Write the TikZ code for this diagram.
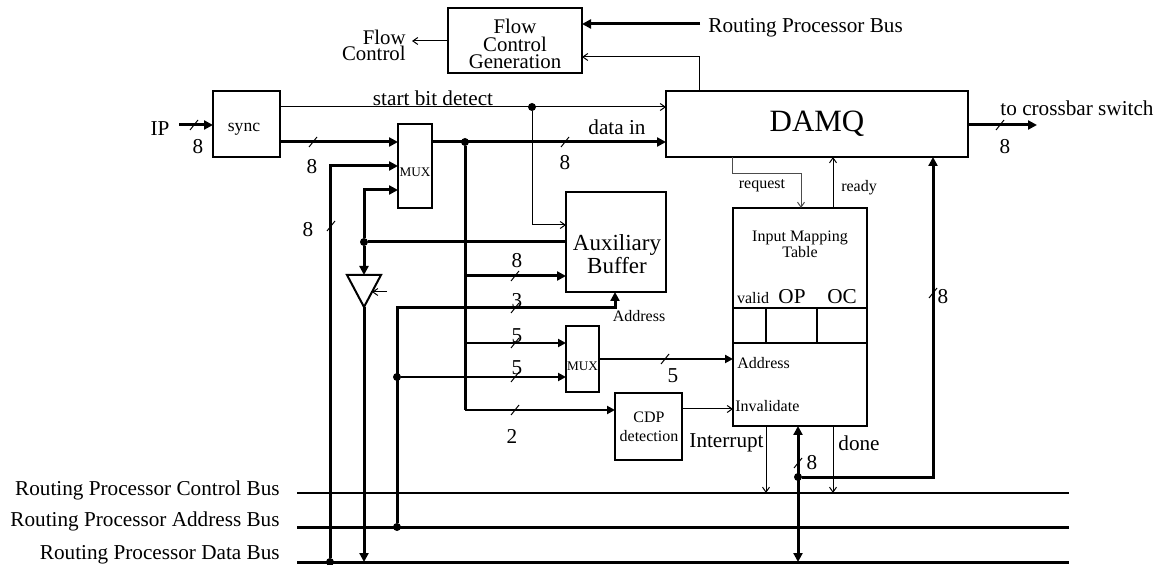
\documentclass[tikz,border=0pt]{standalone}
\usepackage{fontspec}
\setmainfont{Liberation Serif}
\usetikzlibrary{arrows.meta,calc}
\tikzset{
 box/.style={draw,line width=1pt,inner sep=0pt,outer sep=0pt},
 thk/.style={line width=1.5pt},
 med/.style={line width=1pt},
 thn/.style={line width=0.5pt},
 ta/.style={-{Triangle[length=4.5pt,width=4.5pt]}},
 ma/.style={-{Triangle[length=4pt,width=4pt]}},
 na/.style={-{Straight Barb[length=2.5pt,width=3.5pt]}},
 lbl/.style={inner sep=0pt,font=\fontsize{10.6}{11}\selectfont},
 sml/.style={inner sep=0pt,font=\fontsize{8}{9}\selectfont},
 jdot/.style={circle,fill,inner sep=0pt,minimum size=4pt},
}
\newcommand{\busmark}[1]{\draw[thn] ($(#1)+(-4,5)$) -- ++(8,-10);}
\begin{document}
\begin{tikzpicture}[x=0.5pt,y=-0.5pt]
\useasboundingbox (0,0) rectangle (1159,565);
% boxes
\node[box,minimum width=67pt,minimum height=32.5pt] (fcg) at (515,40.5) {};
\node[lbl,align=center,font=\fontsize{10.4}{8.8}\selectfont] (fcgt) at (515,44) {Flow\\Control\\Generation};
\node[box,minimum width=151pt,minimum height=33pt,font=\fontsize{15.5}{16}\selectfont] (damq) at (817,124) {DAMQ};
\node[box,minimum width=33.5pt,minimum height=33pt] (sync) at (246.5,124) {};
\node[inner sep=0pt,font=\fontsize{8.8}{10}\selectfont] (synct) at (244,129) {sync};
\node[box,minimum width=17pt,minimum height=42pt] (mux1) at (415,166) {};
\node[inner sep=0pt,font=\fontsize{6.6}{7}\selectfont] (mux1t) at (415,172) {MUX};
\node[box,minimum width=50pt,minimum height=50pt] (aux) at (616,242) {};
\node[inner sep=0pt,align=center,font=\fontsize{11.5}{8.5}\selectfont] (auxt) at (617,254) {Auxiliary\\Buffer};
\node[box,minimum width=16.5pt,minimum height=33pt] (mux2) at (582.5,359) {};
\node[inner sep=0pt,font=\fontsize{6.6}{7}\selectfont] (mux2t) at (582.5,366) {MUX};
\node[box,minimum width=33.5pt,minimum height=33.5pt] (cdp) at (648.5,426.5) {};
\node[inner sep=0pt,align=center,font=\fontsize{8}{9.5}\selectfont] (cdpt) at (649,427) {CDP\\detection};
\node[box,minimum width=67pt,minimum height=109pt] (imt) at (800,317) {};
\draw[line width=1pt] ($(imt.north west)+(0,100)$) -- ($(imt.north east)+(0,100)$);
\draw[line width=1pt] ($(imt.north west)+(0,135)$) -- ($(imt.north east)+(0,135)$);
\draw[line width=1pt] ($(imt.north west)+(33,100)$) -- ++(0,35);
\draw[line width=1pt] ($(imt.north west)+(84,100)$) -- ++(0,35);
\node[inner sep=0pt,align=center,font=\fontsize{8}{7.8}\selectfont] (imtt) at (800,244) {Input Mapping\\Table};
\node[sml] (valid) at (753,298) {valid};
\node[lbl] (op) at (792,297) {OP};
\node[lbl] (oc) at (842,297) {OC};
\node[sml,anchor=west] (addr2) at (737,363) {Address};
\node[sml,anchor=west] (inval) at (735,406) {Invalidate};
% IP
\node[lbl] (ip) at (160,129) {IP};
\coordinate (ipS) at (179,125);
\draw[thk,ta] (ipS) -- (ipS -| sync.west);
\busmark{194,125}
\node[lbl] (ip8) at (198,147) {8};
% start bit detect
\node[jdot] (j1) at (532,107) {};
\draw[thn,na] (sync.east |- j1) -- (damq.west |- j1);
\node[lbl] (sbd) at (433,98) {start bit detect};
\coordinate (c1) at (532,225);
\draw[thn,na] (j1) -- (c1) -- (aux.west |- c1);
% sync -> mux1
\coordinate (s1) at (300,142);
\draw[thk,ta] (sync.east |- s1) -- (mux1.west |- s1);
\busmark{313,142}
\node[lbl] (s8) at (312,167) {8};
% mux1 -> damq
\node[jdot] (j2) at (465,142) {};
\draw[thk,ta] (mux1.east |- j2) -- (damq.west |- j2);
\busmark{565,142}
\node[lbl] (d8) at (565,163) {8};
\node[lbl] (din) at (617,127) {data in};
% vertical 465
\coordinate (c2) at (465,410);
\draw[thk] (j2) -- (c2);
\draw[med,ma] (c2) -- (cdp.west |- c2);
\coordinate (c3) at (465,276);
\draw[thk,ta] (c3) -- (aux.west |- c3);
\coordinate (c4) at (465,343);
\draw[med,ma] (c4) -- (mux2.west |- c4);
\busmark{515,276}
\busmark{515,308}
\busmark{515,343}
\busmark{515,377}
\busmark{515,410}
\node[lbl] (l8) at (517,261) {8};
\node[lbl] (l3) at (517,301) {3};
\node[lbl] (l5a) at (517,336) {5};
\node[lbl] (l5b) at (517,368) {5};
\node[lbl] (l2) at (512,436) {2};
% x=397
\node[jdot] (j3) at (397,527) {};
\node[jdot] (j4) at (397,377) {};
\coordinate (c5) at (397,308);
\coordinate (c6) at (615,308);
\draw[thk,ta] (j3) -- (c5) -- (c6) -- (c6 |- aux.south);
\draw[med,ma] (j4) -- (mux2.west |- j4);
\node[sml] (addr1) at (639,316) {Address};
% mux2 -> imt
\draw[med,ma] (mux2.east) -- (mux2.east -| imt.west);
\busmark{665,359}
\node[lbl] (m5) at (673,376) {5};
% cdp -> imt
\coordinate (c7) at (700,409);
\draw[thn,na] (cdp.east |- c7) -- (imt.west |- c7);
% aux -> left
\node[jdot] (j5) at (364,242) {};
\draw[thk] (aux.west |- j5) -- (j5);
\coordinate (c8) at (364,190);
\draw[thk,ta] (j5) -- (c8) -- (mux1.west |- c8);
\coordinate (t1) at (347,275);
\coordinate (t2) at (381,275);
\coordinate (t3) at (364,307);
\draw[line width=1pt] (t1) -- (t2) -- (t3) -- cycle;
\draw[thk,ta] (j5) -- (j5 |- t1);
\coordinate (en) at (387,292);
\coordinate (enT) at (372,292);
\draw[thn,na] (en) -- (enT);
\coordinate (db364) at (364,562);
\draw[thk,ta] (t3) -- (db364);
% x=330
\node[jdot] (j6) at (330,562) {};
\coordinate (c9) at (330,166);
\draw[thk,ta] (j6) -- (c9) -- (mux1.west |- c9);
\busmark{331,226}
\node[lbl] (v8) at (308,230) {8};
% buses
\coordinate (cb0) at (297,493); \coordinate (cb1) at (1069,493);
\coordinate (ab0) at (297,527); \coordinate (ab1) at (1069,527);
\coordinate (db0) at (297,562); \coordinate (db1) at (1069,562);
\draw[line width=0.6pt] (cb0) -- (cb1);
\draw[thk] (ab0) -- (ab1);
\draw[thk] (db0) -- (db1);
\node[lbl,anchor=east] (cbl) at (280,490) {Routing Processor Control Bus};
\node[lbl,anchor=east] (abl) at (280,521) {Routing Processor Address Bus};
\node[lbl,anchor=east] (dbl) at (280,555) {Routing Processor Data Bus};
% request / ready
\coordinate (r1) at (732,174); \coordinate (r2) at (801,174);
\draw[thn,na,gray!60!black] (r1 |- damq.south) -- (r1) -- (r2) -- (r2 |- imt.north);
\node[sml] (req) at (762,186) {request};
\coordinate (rd) at (833,190);
\draw[thn,na] (rd |- imt.north) -- (rd |- damq.south);
\node[sml] (rdy) at (859,188) {ready};
% x=933
\node[jdot] (j7) at (798,477) {};
\coordinate (c10) at (933,477);
\draw[thk,ta] (j7) -- (c10) -- (c10 |- damq.south);
\busmark{933,293}
\node[lbl] (r8) at (943,297) {8};
% x=798
\coordinate (c11) at (798,562);
\draw[thk,{Triangle[length=4.5pt,width=4.5pt]}-{Triangle[length=4.5pt,width=4.5pt]}] (c11 |- imt.south) -- (c11);
\busmark{798,463}
\node[lbl] (b8) at (812,463) {8};
% interrupt / done
\coordinate (c12) at (766,493);
\draw[thn,na] (c12 |- imt.south) -- (c12);
\coordinate (c13) at (833,493);
\draw[thn,na] (c13 |- imt.south) -- (c13);
\node[lbl,anchor=east] (intr) at (764,443) {Interrupt};
\node[lbl,anchor=west] (done) at (838,443) {done};
% crossbar
\coordinate (x1) at (1037,125);
\draw[thk,ta] (damq.east |- x1) -- (x1);
\busmark{1000,125}
\node[lbl] (x8) at (1005,147) {8};
\node[lbl] (xt) at (1077,108) {to crossbar switch};
% FCG links
\node[lbl,anchor=west] (rpb) at (708,28) {Routing Processor Bus};
\coordinate (rp) at (700,24);
\draw[thk,ta] (rp) -- (rp -| fcg.east);
\coordinate (fb) at (699,57);
\draw[thn,na] (fb |- damq.north) -- (fb) -- (fb -| fcg.east);
\node[lbl,align=right,anchor=east,font=\fontsize{10.4}{8}\selectfont] (fc) at (406,45) {Flow\\Control};
\coordinate (fco) at (412,41);
\draw[thn,na] (fcg.west |- fco) -- (fco);
\end{tikzpicture}
\end{document}
